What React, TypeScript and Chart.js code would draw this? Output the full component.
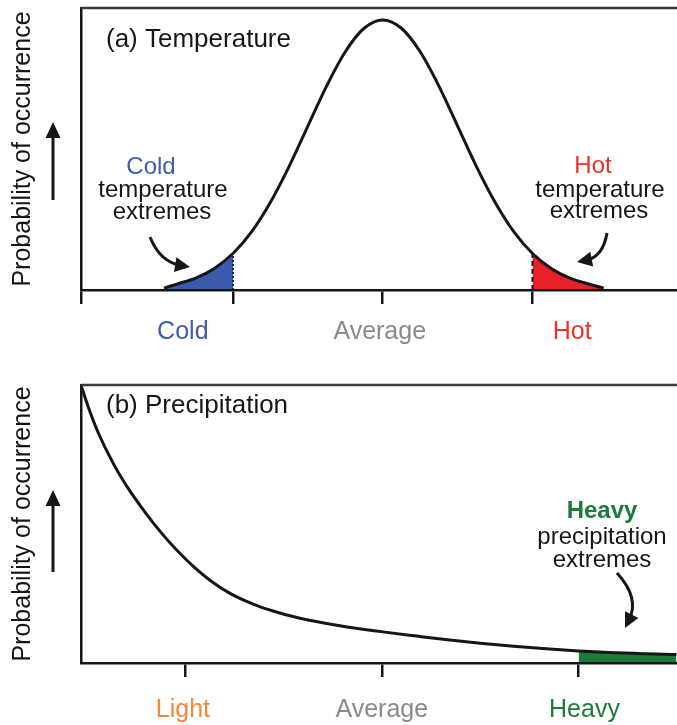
import React, { useEffect, useRef } from "react";
import { Chart, registerables } from "chart.js";

Chart.register(...registerables);

const FONT = "'Liberation Sans', Arial, Helvetica, sans-serif";

// ---------- (a) Temperature ----------
const tempX = [-2.92, -2.75, -2.5, -2.25, -2.0, -1.75, -1.5, -1.25, -1.0, -0.75, -0.5, -0.25, 0, 0.25, 0.5, 0.75, 1.0, 1.25, 1.5, 1.75, 2.0, 2.25, 2.5, 2.75, 2.95];
const tempY = [0.007, 0.022, 0.044, 0.08, 0.135, 0.216, 0.325, 0.458, 0.607, 0.755, 0.882, 0.969, 1.0, 0.969, 0.882, 0.755, 0.607, 0.458, 0.325, 0.216, 0.135, 0.08, 0.044, 0.022, 0.007];
const tempTickValues = [-2, 0, 2];
const tempLabels = ["Cold", "Average", "Hot"];
const tempLabelX = [-2.67, -0.04, 2.53];
const tempLabelColors = ["#3f5cae", "#8a8a8a", "#ee3124"];
const coldLimit = -2;
const hotLimit = 2;

// ---------- (b) Precipitation ----------
const precipX = [0.472, 0.508, 0.558, 0.635, 0.711, 0.797, 0.878, 0.964, 1.051, 1.132, 1.218, 1.305, 1.386, 1.482, 1.584, 1.787, 2.005, 2.178, 2.345, 2.513, 2.685, 2.853, 3.0, 3.193, 3.497];
const precipY = [1.0, 0.923, 0.831, 0.719, 0.629, 0.543, 0.47, 0.402, 0.342, 0.295, 0.255, 0.224, 0.201, 0.18, 0.161, 0.134, 0.112, 0.0968, 0.0827, 0.0701, 0.059, 0.05, 0.0435, 0.0367, 0.0302];
const precipTickValues = [1, 2, 3];
const precipLabels = ["Light", "Average", "Heavy"];
const precipLabelX = [0.99, 2.0, 3.03];
const precipLabelColors = ["#f4873a", "#8a8a8a", "#1e7b3c"];
const heavyLimit = 3;

const INK = "#161616";

type Pt = { x: number; y: number };
const pts = (xs: number[], ys: number[]): Pt[] => xs.map((x, i) => ({ x, y: ys[i] }));

function arrowHead(ctx: CanvasRenderingContext2D, tx: number, ty: number, ang: number, len = 15, half = 7) {
  const bx = tx - len * Math.cos(ang);
  const by = ty - len * Math.sin(ang);
  ctx.beginPath();
  ctx.moveTo(tx, ty);
  ctx.lineTo(bx + half * Math.sin(ang), by - half * Math.cos(ang));
  ctx.lineTo(bx - half * Math.sin(ang), by + half * Math.cos(ang));
  ctx.closePath();
  ctx.fill();
}

function curvedArrow(ctx: CanvasRenderingContext2D, x0: number, y0: number, cx: number, cy: number, x1: number, y1: number) {
  const ang = Math.atan2(y1 - cy, x1 - cx);
  const ex = x1 - 9 * Math.cos(ang);
  const ey = y1 - 9 * Math.sin(ang);
  ctx.save();
  ctx.strokeStyle = INK;
  ctx.fillStyle = INK;
  ctx.lineWidth = 3;
  ctx.lineCap = "butt";
  ctx.beginPath();
  ctx.moveTo(x0, y0);
  ctx.quadraticCurveTo(cx, cy, ex, ey);
  ctx.stroke();
  arrowHead(ctx, x1, y1, ang, 15, 7.5);
  ctx.restore();
}

function upArrow(ctx: CanvasRenderingContext2D, x: number, yTip: number, yTail: number) {
  ctx.save();
  ctx.strokeStyle = INK;
  ctx.fillStyle = INK;
  ctx.lineWidth = 3;
  ctx.beginPath();
  ctx.moveTo(x, yTail);
  ctx.lineTo(x, yTip + 10);
  ctx.stroke();
  arrowHead(ctx, x, yTip, -Math.PI / 2, 16, 7.5);
  ctx.restore();
}

function text(ctx: CanvasRenderingContext2D, s: string, x: number, y: number, color: string, align: CanvasTextAlign = "center", bold = false, size = 24) {
  ctx.save();
  ctx.font = `${bold ? "bold " : ""}${size}px ${FONT}`;
  ctx.fillStyle = color;
  ctx.textAlign = align;
  ctx.textBaseline = "alphabetic";
  ctx.fillText(s, x, y);
  ctx.restore();
}

function topBorder(chart: any) {
  const { ctx, chartArea: a } = chart;
  ctx.save();
  ctx.strokeStyle = "#3a3a3a";
  ctx.lineWidth = 2.5;
  ctx.beginPath();
  ctx.moveTo(a.left, a.top);
  ctx.lineTo(a.right, a.top);
  ctx.stroke();
  ctx.restore();
}

function tickLabels(chart: any, labels: string[], xs: number[], colors: string[], dy: number) {
  const { chartArea: a, scales, ctx } = chart;
  labels.forEach((l, i) => text(ctx, l, scales.x.getPixelForValue(xs[i]), a.bottom + dy, colors[i], "center", false, 25));
}

function axisOptions(min: number, max: number, ymax: number, tickValues: number[], includeMin: boolean) {
  return {
    x: {
      type: "linear",
      min,
      max,
      border: { display: true, color: INK, width: 2.5, z: 1 },
      grid: { display: true, drawOnChartArea: false, drawTicks: true, tickLength: 14, color: INK, lineWidth: 2.5 },
      ticks: { display: false },
      afterBuildTicks: (s: any) => {
        const vals = includeMin ? [s.min, ...tickValues] : tickValues;
        s.ticks = vals.map((v: number) => ({ value: v }));
      },
    },
    y: {
      type: "linear",
      min: 0,
      max: ymax,
      border: { display: true, color: INK, width: 2.5, z: 1 },
      grid: { display: false, drawTicks: false },
      ticks: { display: false },
      title: {
        display: true,
        text: "Probability of occurrence",
        color: INK,
        font: { family: FONT, size: 25 },
        padding: { top: 8, bottom: 43 },
      },
    },
  };
}

function makeTemp(): any {
  const coldIdx = tempX.indexOf(coldLimit);
  const hotIdx = tempX.indexOf(hotLimit);
  const decor = {
    id: "tempDecor",
    afterDatasetsDraw(chart: any) {
      const { ctx, scales: { x, y } } = chart;
      ctx.save();
      ctx.lineWidth = 2;
      ctx.strokeStyle = "#1b2450";
      ctx.setLineDash([2, 2]);
      ctx.beginPath();
      ctx.moveTo(x.getPixelForValue(coldLimit), y.getPixelForValue(0));
      ctx.lineTo(x.getPixelForValue(coldLimit), y.getPixelForValue(tempY[coldIdx]));
      ctx.stroke();
      ctx.strokeStyle = INK;
      ctx.setLineDash([5, 3]);
      ctx.beginPath();
      ctx.moveTo(x.getPixelForValue(hotLimit), y.getPixelForValue(0));
      ctx.lineTo(x.getPixelForValue(hotLimit), y.getPixelForValue(tempY[hotIdx]));
      ctx.stroke();
      ctx.restore();
    },
    afterDraw(chart: any) {
      const { ctx } = chart;
      topBorder(chart);
      tickLabels(chart, tempLabels, tempLabelX, tempLabelColors, 49);
      text(ctx, "(a) Temperature", 106, 47, INK, "left", false, 26);
      text(ctx, "Cold", 151, 174, "#3f5cae");
      text(ctx, "temperature", 163, 197, INK);
      text(ctx, "extremes", 162, 219, INK);
      text(ctx, "Hot", 593, 173, "#ee3124");
      text(ctx, "temperature", 600, 197, INK);
      text(ctx, "extremes", 599, 218, INK);
      curvedArrow(ctx, 150, 237, 160, 262, 190, 267);
      curvedArrow(ctx, 607, 233, 603, 257, 577, 262);
      upArrow(ctx, 53, 122, 200);
    },
  };
  return {
    type: "line",
    data: {
      datasets: [
        { data: pts(tempX, tempY), borderColor: INK, borderWidth: 3, pointRadius: 0, cubicInterpolationMode: "monotone", fill: false },
        { data: pts(tempX.slice(0, coldIdx + 1), tempY.slice(0, coldIdx + 1)), borderColor: "transparent", borderWidth: 0, pointRadius: 0, backgroundColor: "#3a5aad", fill: "origin", cubicInterpolationMode: "monotone" },
        { data: pts(tempX.slice(hotIdx), tempY.slice(hotIdx)), borderColor: "transparent", borderWidth: 0, pointRadius: 0, backgroundColor: "#e8202a", fill: "origin", cubicInterpolationMode: "monotone" },
      ],
    },
    options: {
      animation: false,
      responsive: true,
      maintainAspectRatio: false,
      events: [],
      layout: { padding: { top: 8, right: 0, bottom: 56, left: 0 } },
      plugins: { legend: { display: false }, tooltip: { enabled: false } },
      scales: axisOptions(-4.03, 3.93, 1.044, tempTickValues, true),
    },
    plugins: [decor],
  };
}

function makePrecip(): any {
  const heavyIdx = precipX.findIndex((v) => v >= heavyLimit);
  const decor = {
    id: "precipDecor",
    afterDraw(chart: any) {
      const { ctx } = chart;
      topBorder(chart);
      tickLabels(chart, precipLabels, precipLabelX, precipLabelColors, 54);
      text(ctx, "(b) Precipitation", 106, 53, INK, "left", false, 26);
      text(ctx, "Heavy", 602, 158, "#1e7b3c", "center", true);
      text(ctx, "precipitation", 602, 184, INK);
      text(ctx, "extremes", 602, 207, INK);
      curvedArrow(ctx, 617, 213, 640, 238, 625, 268);
      upArrow(ctx, 53, 130, 212);
    },
  };
  return {
    type: "line",
    data: {
      datasets: [
        { data: pts(precipX, precipY), borderColor: INK, borderWidth: 3, pointRadius: 0, cubicInterpolationMode: "monotone", fill: false },
        { data: pts(precipX.slice(heavyIdx), precipY.slice(heavyIdx)), borderColor: "transparent", borderWidth: 0, pointRadius: 0, backgroundColor: "#1b7a3e", fill: "origin", cubicInterpolationMode: "monotone" },
      ],
    },
    options: {
      animation: false,
      responsive: true,
      maintainAspectRatio: false,
      events: [],
      layout: { padding: { top: 25, right: 0, bottom: 48, left: 0 } },
      plugins: { legend: { display: false }, tooltip: { enabled: false } },
      scales: axisOptions(0.472, 3.5, 1.0, precipTickValues, false),
    },
    plugins: [decor],
  };
}

function Panel({ top, height, make }: { top: number; height: number; make: () => any }) {
  const ref = useRef<HTMLCanvasElement>(null);
  useEffect(() => {
    const chart = new Chart(ref.current as HTMLCanvasElement, make());
    return () => chart.destroy();
  }, []);
  return (
    <div style={{ position: "absolute", left: 0, top, width: 677, height }}>
      <canvas ref={ref} />
    </div>
  );
}

export default function App() {
  return (
    <div style={{ position: "absolute", left: 0, top: 0, width: 677, height: 725, background: "#fff" }}>
      <Panel top={0} height={360} make={makeTemp} />
      <Panel top={360} height={365} make={makePrecip} />
    </div>
  );
}
